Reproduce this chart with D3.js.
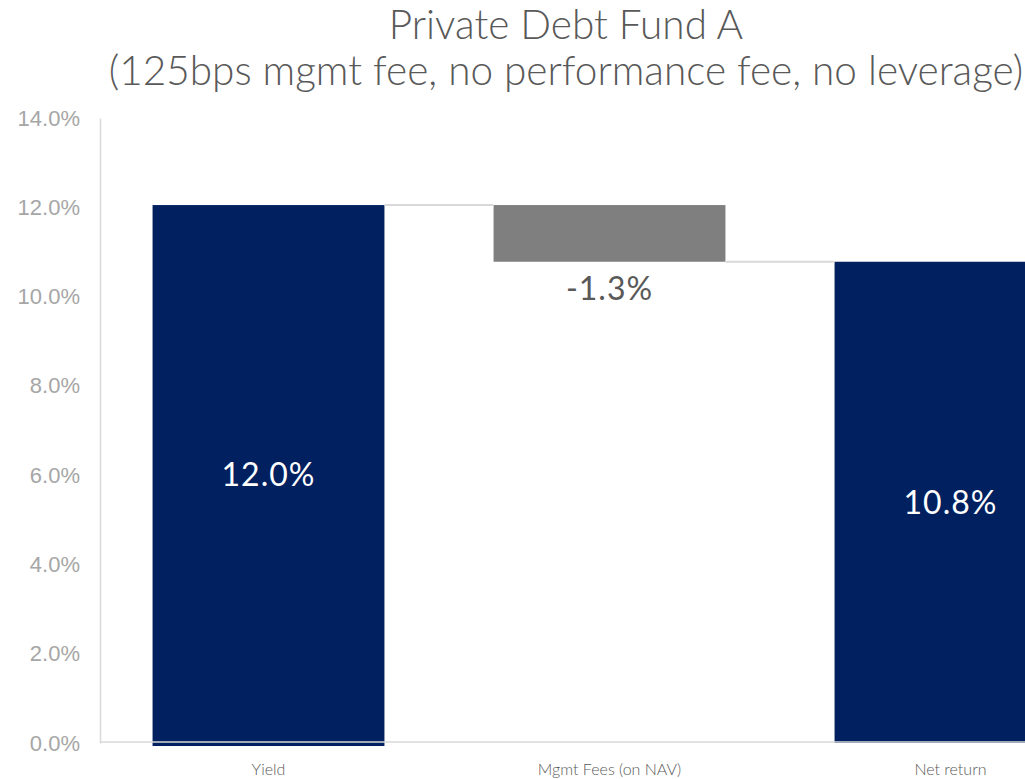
<!DOCTYPE html>
<html>
<head>
<meta charset="utf-8">
<script src="https://cdn.jsdelivr.net/npm/d3@7"></script>
<style>
body { margin: 0; background: #fff; }
</style>
</head>
<body>
<script>
var w = 1025;
var h = 779;

// chart values
var categories = ["Yield", "Mgmt Fees (on NAV)", "Net return"];
var values = [12.05, -1.27, 10.78];      // yield, fee step, total
var kinds = ["total", "step", "total"];
var valueLabels = ["12.0%", "-1.3%", "10.8%"];
var yTicks = [0, 2, 4, 6, 8, 10, 12, 14];
var titleLines = ["Private Debt Fund A", "(125bps mgmt fee, no performance fee, no leverage)"];

var margin = {left: 100, top: 118, bottom: 36};

var svg = d3.select("body")
    .append("svg")
    .attr("width", w)
    .attr("height", h);

// waterfall start/end of each bar
var running = 0;
var bars = values.map(function(v, i) {
    var b;
    if (kinds[i] == "total") {
        b = {start: 0, end: v};
        running = v;
    } else {
        b = {start: running, end: running + v};
        running = running + v;
    }
    b.name = categories[i];
    b.kind = kinds[i];
    b.label = valueLabels[i];
    b.i = i;
    return b;
});

var xScale = d3.scaleBand()
    .domain(categories)
    .range([98, 98 + 3 * 341])
    .paddingInner(0.32)
    .paddingOuter(0.16);

var yScale = d3.scaleLinear()
    .domain([0, 14])
    .range([h - margin.bottom, margin.top]);

// title
svg.selectAll(".title")
    .data(titleLines)
    .enter()
    .append("text")
    .attr("class", "title")
    .attr("x", 566)
    .attr("y", function(d, i) { return 39 + i * 46; })
    .attr("text-anchor", "middle")
    .attr("font-family", "Lato, sans-serif")
    .attr("font-weight", 300)
    .attr("font-size", "40.5px")
    .attr("fill", "#595959")
    .text(function(d) { return d; });

// y axis
var yAxis = d3.axisLeft(yScale)
    .tickValues(yTicks)
    .tickSize(0)
    .tickPadding(20)
    .tickFormat(function(d) { return d.toFixed(1) + "%"; });
var gy = svg.append("g")
    .attr("class", "axis")
    .attr("transform", "translate(" + margin.left + ",0)")
    .call(yAxis);
gy.select(".domain").attr("stroke", "#d9d9d9").attr("stroke-width", 1.5);
gy.selectAll("text")
    .attr("font-family", "Liberation Sans, Arial, sans-serif")
    .attr("font-size", "22px")
    .attr("fill", "#a6a6a6");

// bars
svg.selectAll("rect.bar")
    .data(bars)
    .enter()
    .append("rect")
    .attr("class", "bar")
    .attr("x", function(d) { return xScale(d.name); })
    .attr("width", xScale.bandwidth())
    .attr("y", function(d) { return yScale(Math.max(d.start, d.end)); })
    .attr("height", function(d) {
        var hh = Math.abs(yScale(d.start) - yScale(d.end));
        return d.i == 0 ? hh + 3 : hh;
    })
    .attr("fill", function(d) { return d.kind == "total" ? "#002060" : "#7f7f7f"; });

// connectors
var links = bars.slice(0, -1).map(function(d, i) { return {from: d, to: bars[i + 1]}; });
svg.selectAll("line.conn")
    .data(links)
    .enter()
    .append("line")
    .attr("class", "conn")
    .attr("x1", function(d) { return xScale(d.from.name) + xScale.bandwidth(); })
    .attr("x2", function(d) { return xScale(d.to.name); })
    .attr("y1", function(d) { return yScale(d.from.end); })
    .attr("y2", function(d) { return yScale(d.from.end); })
    .attr("stroke", "#d9d9d9")
    .attr("stroke-width", 2);

// x axis line
svg.append("line")
    .attr("x1", margin.left)
    .attr("x2", w)
    .attr("y1", yScale(0) - 1)
    .attr("y2", yScale(0) - 1)
    .attr("stroke", "#d9d9d9")
    .attr("stroke-width", 1.5);

// category labels
svg.selectAll("text.cat")
    .data(categories)
    .enter()
    .append("text")
    .attr("class", "cat")
    .attr("x", function(d) { return xScale(d) + xScale.bandwidth() / 2; })
    .attr("y", 775)
    .attr("text-anchor", "middle")
    .attr("font-family", "Lato, sans-serif")
    .attr("font-weight", 300)
    .attr("font-size", "16px")
    .attr("fill", "#595959")
    .text(function(d) { return d; });

// value labels
svg.selectAll("text.val")
    .data(bars)
    .enter()
    .append("text")
    .attr("class", "val")
    .attr("x", function(d) { return xScale(d.name) + xScale.bandwidth() / 2; })
    .attr("y", function(d) {
        if (d.kind == "total") return (yScale(d.start) + yScale(d.end)) / 2 + 12;
        return yScale(Math.min(d.start, d.end)) + 38;
    })
    .attr("text-anchor", "middle")
    .attr("font-family", "Lato, sans-serif")
    .attr("font-weight", 400)
    .attr("font-size", "32px")
    .attr("letter-spacing", "1px")
    .attr("fill", function(d) { return d.kind == "total" ? "#ffffff" : "#595959"; })
    .text(function(d) { return d.label; });
</script>
</body>
</html>
